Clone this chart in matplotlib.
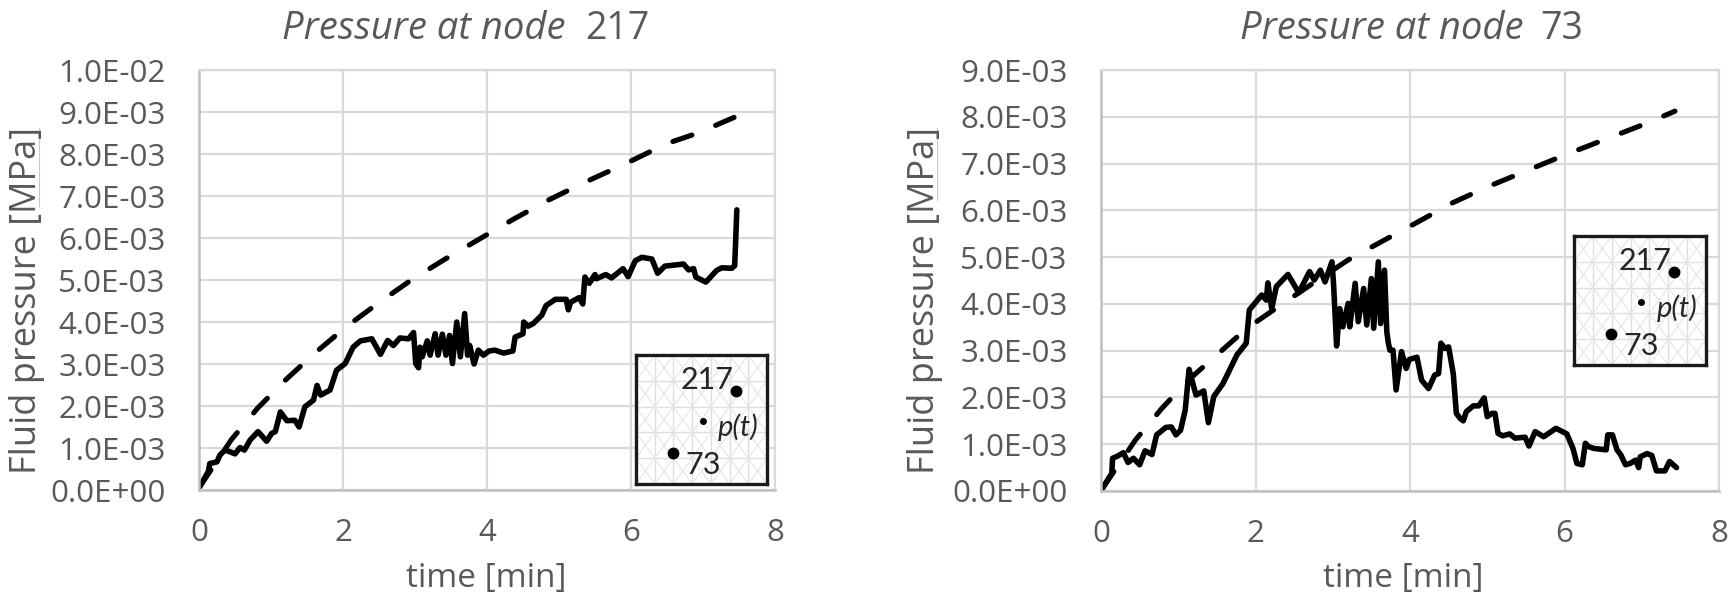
import numpy as np
import matplotlib
matplotlib.use('Agg')
import matplotlib.pyplot as plt
from matplotlib.lines import Line2D

W, H = 1734, 603

# no 217: measured curve
t_217 = [0.01, 0.13, 0.15, 0.25, 0.29, 0.36, 0.43, 0.50, 0.57, 0.63, 0.71, 0.82, 0.94, 1.01, 1.06, 1.13, 1.22, 1.33, 1.39,
         1.47, 1.59, 1.64, 1.69, 1.82, 1.91, 2.03, 2.14, 2.24, 2.40, 2.52, 2.62, 2.70, 2.79, 2.91, 2.98, 3.01, 3.05, 3.07,
         3.10, 3.17, 3.21, 3.28, 3.32, 3.38, 3.43, 3.48, 3.52, 3.58, 3.63, 3.69, 3.73, 3.76, 3.82, 3.88, 3.95, 4.03, 4.11,
         4.23, 4.36, 4.39, 4.50, 4.51, 4.57, 4.64, 4.76, 4.82, 4.95, 5.10, 5.13, 5.16, 5.28, 5.33, 5.36, 5.42, 5.50, 5.52,
         5.65, 5.73, 5.89, 5.96, 6.06, 6.15, 6.29, 6.37, 6.47, 6.73, 6.80, 6.87, 6.90, 7.04, 7.19, 7.26, 7.40, 7.44, 7.47]
p_217 = [0.08, 0.44, 0.63, 0.67, 0.83, 0.95, 0.91, 0.86, 1.01, 0.95, 1.19, 1.39, 1.16, 1.35, 1.39, 1.86, 1.65, 1.66, 1.50,
         1.98, 2.14, 2.49, 2.26, 2.38, 2.85, 3.01, 3.40, 3.55, 3.60, 3.23, 3.56, 3.44, 3.62, 3.60, 3.75, 3.01, 2.91, 3.40,
         3.17, 3.55, 3.21, 3.72, 3.21, 3.71, 3.21, 3.68, 3.01, 4.00, 3.17, 4.20, 3.21, 3.44, 3.00, 3.33, 3.21, 3.31, 3.33,
         3.26, 3.31, 3.64, 3.72, 4.00, 3.90, 3.96, 4.16, 4.39, 4.54, 4.54, 4.29, 4.47, 4.58, 4.43, 5.07, 4.92, 5.13, 5.03,
         5.13, 5.05, 5.27, 5.08, 5.46, 5.54, 5.50, 5.16, 5.33, 5.38, 5.24, 5.27, 5.07, 4.95, 5.23, 5.29, 5.28, 5.34, 6.67]

# no 217: dashed reference
t_217_ref = [0.01, 0.45, 0.82, 1.22, 1.63, 2.04, 2.49, 2.94, 3.42, 3.90, 4.37, 4.85, 5.35, 5.90, 6.50, 6.93, 7.20, 7.47]
p_217_ref = [0.08, 1.20, 1.96, 2.65, 3.29, 3.88, 4.45, 4.99, 5.50, 5.98, 6.45, 6.90, 7.32, 7.75, 8.25, 8.50, 8.70, 8.90]

# no 73: measured curve
t_73 = [0.02, 0.14, 0.15, 0.22, 0.29, 0.35, 0.42, 0.50, 0.57, 0.66, 0.72, 0.84, 0.91, 0.97, 1.03, 1.09, 1.14, 1.23, 1.33,
        1.39, 1.46, 1.58, 1.76, 1.88, 1.92, 2.08, 2.14, 2.16, 2.21, 2.27, 2.42, 2.56, 2.70, 2.76, 2.84, 2.90, 2.99, 3.01,
        3.05, 3.09, 3.13, 3.20, 3.22, 3.29, 3.33, 3.40, 3.44, 3.50, 3.53, 3.59, 3.62, 3.67, 3.70, 3.72, 3.74, 3.78, 3.82,
        3.89, 3.95, 3.99, 4.09, 4.15, 4.24, 4.32, 4.37, 4.40, 4.45, 4.50, 4.56, 4.60, 4.65, 4.69, 4.73, 4.82, 4.89, 4.96,
        5.00, 5.06, 5.10, 5.14, 5.20, 5.29, 5.36, 5.49, 5.54, 5.62, 5.73, 5.89, 6.03, 6.11, 6.16, 6.23, 6.27, 6.31, 6.38,
        6.54, 6.56, 6.62, 6.68, 6.73, 6.79, 6.85, 6.92, 6.96, 6.98, 7.07, 7.13, 7.19, 7.30, 7.36, 7.45]
p_73 = [0.06, 0.38, 0.70, 0.75, 0.82, 0.61, 0.70, 0.56, 0.86, 0.78, 1.20, 1.36, 1.37, 1.20, 1.30, 1.73, 2.60, 2.05, 2.14,
        1.46, 2.02, 2.30, 2.91, 3.16, 3.87, 4.19, 4.08, 4.45, 3.90, 4.37, 4.63, 4.24, 4.69, 4.51, 4.72, 4.47, 4.90, 4.44,
        3.10, 3.90, 3.51, 4.01, 3.51, 4.44, 3.62, 4.33, 3.55, 4.54, 3.48, 4.90, 3.58, 4.72, 3.40, 3.16, 3.01, 3.01, 2.16,
        2.98, 2.62, 2.81, 2.86, 2.37, 2.19, 2.48, 2.51, 3.16, 3.05, 3.08, 2.51, 1.66, 1.55, 1.50, 1.70, 1.82, 1.82, 1.99,
        1.59, 1.66, 1.66, 1.23, 1.18, 1.22, 1.13, 1.15, 0.96, 1.27, 1.16, 1.34, 1.22, 0.91, 0.59, 0.56, 1.02, 0.95, 0.91,
        0.88, 1.20, 1.20, 0.88, 0.77, 0.56, 0.59, 0.66, 0.50, 0.73, 0.80, 0.76, 0.43, 0.43, 0.63, 0.50]

# no 73: dashed reference
t_73_ref = [0.02, 0.45, 0.79, 1.13, 1.52, 1.89, 2.34, 2.77, 3.20, 3.63, 4.10, 4.55, 5.00, 6.00, 7.00, 7.43]
p_73_ref = [0.06, 1.10, 1.77, 2.37, 2.94, 3.48, 3.99, 4.47, 4.94, 5.33, 5.75, 6.16, 6.50, 7.18, 7.82, 8.12]

x_ticks = [0, 2, 4, 6, 8]
y_ticks_217 = [0, 1, 2, 3, 4, 5, 6, 7, 8, 9, 10]
y_ticks_73 = [0, 1, 2, 3, 4, 5, 6, 7, 8, 9]
y_labels_217 = ['0.0E+00', '1.0E-03', '2.0E-03', '3.0E-03', '4.0E-03', '5.0E-03', '6.0E-03', '7.0E-03', '8.0E-03',
                '9.0E-03', '1.0E-02']
y_labels_73 = y_labels_217[:-1]

# inset nodes in inset units (0-1 both ways)
node_217 = (0.76, 0.72)
node_load = (0.51, 0.49)
node_73 = (0.28, 0.24)

GREY = '#595959'
GRID = '#d9d9d9'
FONT = 'Open Sans'


def box(x0, y0, x1, y1):
    # pixel box -> figure fractions
    return [x0 / W, 1 - y1 / H, (x1 - x0) / W, (y1 - y0) / H]


def ftext(x, y, s, **kw):
    kw.setdefault('color', GREY)
    kw.setdefault('family', FONT)
    fig.text(x / W, 1 - y / H, s, **kw)


def squiggle(x, y0, y1):
    # spell checker underline left in the source picture
    fig.add_artist(Line2D([x / W, x / W], [1 - y0 / H, 1 - y1 / H], color='#f2b8b8', lw=0.8))


def draw_panel(rect, t, p, t_ref, p_ref, yticks, ylabels, ymax):
    ax = fig.add_axes(box(*rect))
    ax.plot(t_ref, p_ref, color='black', lw=3.7, dashes=(3.9, 5.0), dash_capstyle='round', solid_joinstyle='round')
    ax.plot(t, p, color='black', lw=4.0, solid_joinstyle='round', solid_capstyle='round')
    ax.set_xlim(0, 8)
    ax.set_ylim(0, ymax)
    ax.set_xticks(x_ticks)
    ax.set_yticks(yticks)
    ax.set_yticklabels(ylabels)
    ax.grid(True, color=GRID, lw=1.6)
    ax.set_axisbelow(True)
    for side in ['top', 'right']:
        ax.spines[side].set_color(GRID)
        ax.spines[side].set_linewidth(1.6)
    for side in ['left', 'bottom']:
        ax.spines[side].set_color('#bfbfbf')
        ax.spines[side].set_linewidth(1.8)
    ax.tick_params(axis='both', length=0, labelsize=22.5, labelcolor=GREY)
    ax.tick_params(axis='y', pad=24)
    ax.tick_params(axis='x', pad=20)
    for lab in ax.get_xticklabels() + ax.get_yticklabels():
        lab.set_family(FONT)
    return ax


def draw_inset(rect, p_pos, n73_pos):
    ax = fig.add_axes(box(*rect))
    ax.set_zorder(5)
    ax.set_xlim(0, 1)
    ax.set_ylim(0, 1)
    ax.set_xticks([])
    ax.set_yticks([])
    # mesh in the background
    xs = np.linspace(0, 1, 8)
    ys = np.linspace(0, 1, 6)
    for x in xs:
        ax.plot([x, x], [0, 1], color='#dedede', lw=1.0)
    for y in ys:
        ax.plot([0, 1], [y, y], color='#dedede', lw=1.0)
    for i in range(len(xs) - 1):
        for j in range(len(ys) - 1):
            ax.plot([xs[i], xs[i + 1]], [ys[j], ys[j + 1]], color='#e4e4e4', lw=0.8)
            ax.plot([xs[i], xs[i + 1]], [ys[j + 1], ys[j]], color='#e4e4e4', lw=0.8)
    ax.plot(*node_217, 'o', color='black', ms=7.5)
    ax.plot(*node_load, 'o', color='black', ms=4)
    ax.plot(*node_73, 'o', color='black', ms=7.5)
    ax.text(0.54, 0.81, '217', fontsize=22, color='#262626', family='Lato', ha='center', va='center')
    ax.text(*n73_pos, '73', fontsize=22, color='#262626', family='Lato', ha='center', va='center')
    ax.text(*p_pos, 'p(t)', fontsize=21, color='#262626', family='Lato', style='italic', ha='center', va='center')
    for s in ax.spines.values():
        s.set_color('#1a1a1a')
        s.set_linewidth(2.4)


fig = plt.figure(figsize=(W / 100, H / 100), dpi=100)

draw_panel((199, 70, 775, 490), t_217, p_217, t_217_ref, p_217_ref, y_ticks_217, y_labels_217, 10)
draw_panel((1101, 70, 1719, 491), t_73, p_73, t_73_ref, p_73_ref, y_ticks_73, y_labels_73, 9)

draw_inset((636, 355, 767, 484), (0.78, 0.44), (0.51, 0.15))
draw_inset((1574, 236, 1706, 365), (0.78, 0.44), (0.51, 0.15))

# titles: italic text with an upright node number
ftext(566, 29, 'Pressure at node', fontsize=27.5, style='italic', ha='right', va='center')
ftext(585, 29, '217', fontsize=27, ha='left', va='center')
ftext(1524, 29, 'Pressure at node', fontsize=27.5, style='italic', ha='right', va='center')
ftext(1540, 29, '73', fontsize=27, ha='left', va='center')

ftext(486, 578, 'time [min]', fontsize=24, ha='center', va='center')
ftext(1403, 578, 'time [min]', fontsize=24, ha='center', va='center')
ftext(27, 300, 'Fluid pressure [MPa]', fontsize=26, rotation=90, ha='center', va='center')
ftext(925, 300, 'Fluid pressure [MPa]', fontsize=26, rotation=90, ha='center', va='center')

squiggle(39, 128, 207)
squiggle(937, 128, 200)

fig.savefig('out.png', dpi=100, facecolor='white')
